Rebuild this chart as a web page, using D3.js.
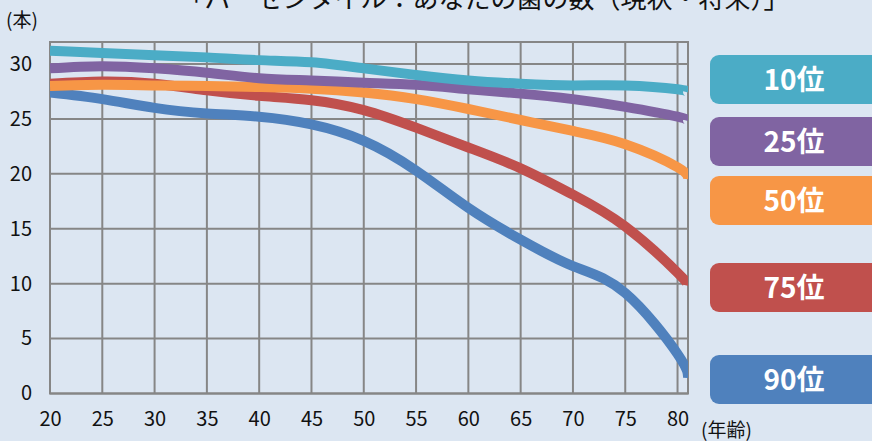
<!DOCTYPE html>
<html><head><meta charset="utf-8">
<script src="https://cdn.jsdelivr.net/npm/d3@7/dist/d3.min.js"></script>
<style>
html,body{margin:0;padding:0;background:#dce6f2;}
svg{display:block;}
text{font-family:"Noto Sans CJK JP","Noto Sans",sans-serif;}
</style></head>
<body>
<svg id="chart" width="872" height="441"></svg>
<script>
const title = "「パーセンタイル：あなたの歯の数（現状・将来）」";
const ages = [20,25,30,35,40,45,50,55,60,65,70,75,80,81];
const xTicks = [20,25,30,35,40,45,50,55,60,65,70,75,80];
const yTicks = [0,5,10,15,20,25,30];
const seriesNames = ["10位","25位","50位","75位","90位"];
const seriesColors = ["#4bacc6","#8064a2","#f79646","#c0504d","#4f81bd"];
const p10 = [31.2,31.0,30.8,30.6,30.35,30.15,29.6,29.0,28.5,28.2,28.05,28.05,27.7,27.4];
const p25 = [29.6,29.8,29.6,29.2,28.7,28.5,28.3,28.1,27.7,27.3,26.8,26.1,25.2,24.8];
const p50 = [28.0,28.1,28.05,28.0,27.9,27.75,27.4,26.8,25.9,24.9,23.9,22.7,20.6,19.5];
const p75 = [28.2,28.4,28.2,27.6,27.1,26.7,25.8,24.2,22.4,20.5,18.1,15.2,11.0,9.8];
const p90 = [27.4,26.8,26.0,25.5,25.2,24.5,23.0,20.3,16.9,14.0,11.6,9.15,3.6,1.4];
const seriesValues = [p10,p25,p50,p75,p90];

(function(){
const svg = d3.select("#chart");
const W = 872, H = 441;
svg.append("rect").attr("width",W).attr("height",H).attr("fill","#dce6f2");

const pL = 50, pR = 688, pT = 42, pB = 393.5;
const x = d3.scaleLinear().domain([20,81]).range([pL,pR]);
const y = d3.scaleLinear().domain([0,32]).range([pB,pT]);

const gridColor = "#868686";
const g = svg.append("g");
g.selectAll(".vg").data(xTicks).enter().append("line")
  .attr("x1",d=>x(d)).attr("x2",d=>x(d)).attr("y1",pT).attr("y2",pB)
  .attr("stroke",gridColor).attr("stroke-width",2);
g.selectAll(".hg").data(yTicks).enter().append("line")
  .attr("x1",pL).attr("x2",pR).attr("y1",d=>y(d)).attr("y2",d=>y(d))
  .attr("stroke",gridColor).attr("stroke-width",2);
g.append("rect").attr("x",pL).attr("y",pT).attr("width",pR-pL).attr("height",pB-pT)
  .attr("fill","none").attr("stroke",gridColor).attr("stroke-width",2);

const xAxis = svg.append("g").attr("transform",`translate(0,${pB})`)
  .call(d3.axisBottom(x).tickValues(xTicks).tickSize(0).tickPadding(18));
xAxis.select(".domain").remove();
xAxis.selectAll("text").attr("font-size",20).attr("fill","#111")
  .style("font-family","'Noto Sans CJK JP',sans-serif");

const yAxis = svg.append("g").attr("transform",`translate(${pL},0)`)
  .call(d3.axisLeft(y).tickValues(yTicks).tickSize(0).tickPadding(18));
yAxis.select(".domain").remove();
yAxis.selectAll("text").attr("font-size",20).attr("fill","#111")
  .style("font-family","'Noto Sans CJK JP',sans-serif");

svg.append("text").attr("x",6).attr("y",27).attr("font-size",19).attr("fill","#111").text("(本)");
svg.append("text").attr("x",701).attr("y",437).attr("font-size",19).attr("fill","#111").text("(年齢)");

svg.append("text").attr("x",484).attr("y",8).attr("text-anchor","middle")
  .attr("font-size",26).attr("fill","#111").text(title);

svg.append("clipPath").attr("id","pc").append("rect")
  .attr("x",pL).attr("y",pT-20).attr("width",pR-pL).attr("height",pB-pT+40);
const line = d3.line().x((d,i)=>x(ages[i])).y(d=>y(d)).curve(d3.curveNatural);
const order = [4,3,2,1,0];
svg.append("g").attr("clip-path","url(#pc)").selectAll("path").data(order).enter().append("path")
  .attr("d",i=>line(seriesValues[i]))
  .attr("fill","none").attr("stroke",i=>seriesColors[i]).attr("stroke-width",10)
  .attr("stroke-linecap","butt").attr("stroke-linejoin","round");

const boxY = [55,117,176,263,355];
const leg = svg.append("g");
seriesNames.forEach((n,i)=>{
  leg.append("rect").attr("x",710).attr("y",boxY[i]).attr("width",180).attr("height",49)
    .attr("rx",9).attr("fill",seriesColors[i]);
  leg.append("text").attr("x",794).attr("y",boxY[i]+35).attr("text-anchor","middle")
    .attr("font-size",28).attr("font-weight","bold").attr("fill","#fff").text(n);
});
})();
</script>
</body></html>
